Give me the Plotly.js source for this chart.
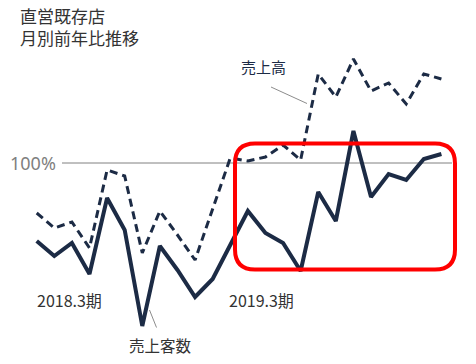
<!DOCTYPE html>
<html><head><meta charset="utf-8">
<script src="https://cdn.plot.ly/plotly-3.0.1.min.js"></script>
<style>html,body{margin:0;padding:0;background:#fff}#chart{width:476px;height:364px}</style>
</head><body><div id="chart"></div>
<script>
// 24 months: Apr 2017 - Mar 2019 (2018.3期, 2019.3期)
const months = ["2017.4","2017.5","2017.6","2017.7","2017.8","2017.9","2017.10","2017.11","2017.12","2018.1","2018.2","2018.3",
                "2018.4","2018.5","2018.6","2018.7","2018.8","2018.9","2018.10","2018.11","2018.12","2019.1","2019.2","2019.3"];
// 売上高 前年比 (%)
const sales = [95.0,93.5,94.1,91.5,99.3,98.7,91.0,95.2,92.8,90.3,95.4,100.5,
               100.2,100.6,101.8,100.3,108.9,106.6,110.4,107.2,108.0,105.9,108.9,108.4];
// 売上客数 前年比 (%)
const customers = [92.2,90.7,92.0,88.9,96.5,93.3,83.7,91.7,89.3,86.6,88.4,91.8,
                   95.2,93.0,92.0,89.2,97.1,94.2,103.2,96.6,98.9,98.3,100.4,100.9];
const titleLines = ["直営既存店","月別前年比推移"];
const periodLabels = ["2018.3期","2019.3期"];
const seriesLabels = ["売上高","売上客数"];
const refValue = 100;

const W = 476, H = 364;
const px = x => x / W, py = y => 1 - y / H;
const navy = "#1c2b45";
const xi = months.map((m, i) => i);

const traces = [
  {x: xi, y: sales, mode: "lines", line: {color: navy, width: 3, dash: "8px,5px"}, hoverinfo: "skip", text: months},
  {x: xi, y: customers, mode: "lines", line: {color: navy, width: 4}, hoverinfo: "skip", text: months}
];

// rounded red rectangle
function roundRect(x0, y0, x1, y1, r) {
  const rx = r / W, ry = r / H;
  const X0 = px(x0), X1 = px(x1), Y0 = py(y0), Y1 = py(y1);
  return `M ${X0+rx},${Y0} L ${X1-rx},${Y0} Q ${X1},${Y0} ${X1},${Y0-ry} L ${X1},${Y1+ry} Q ${X1},${Y1} ${X1-rx},${Y1} ` +
         `L ${X0+rx},${Y1} Q ${X0},${Y1} ${X0},${Y1+ry} L ${X0},${Y0-ry} Q ${X0},${Y0} ${X0+rx},${Y0} Z`;
}

const font = "'Noto Sans CJK JP', 'Noto Sans', sans-serif";
const layout = {
  width: W, height: H,
  margin: {l: 0, r: 0, t: 0, b: 0},
  paper_bgcolor: "#fff", plot_bgcolor: "rgba(0,0,0,0)",
  showlegend: false,
  xaxis: {range: [-2.086, 24.966], visible: false, fixedrange: true},
  yaxis: {range: [79.9, 116.3], visible: false, fixedrange: true},
  shapes: [
    {type: "line", xref: "paper", yref: "y", x0: px(62), x1: px(452), y0: refValue, y1: refValue,
     line: {color: "#808080", width: 1}, layer: "below"},
    {type: "path", xref: "paper", yref: "paper", path: roundRect(235, 143.5, 455, 269.5, 20),
     line: {color: "#ff0000", width: 4}, fillcolor: "rgba(0,0,0,0)", layer: "above"},
    {type: "line", xref: "paper", yref: "paper", x0: px(271), y0: py(87), x1: px(307), y1: py(103.5),
     line: {color: "#8c8c8c", width: 1}},
    {type: "line", xref: "paper", yref: "paper", x0: px(149.5), y0: py(310), x1: px(156.5), y1: py(327.5),
     line: {color: "#8c8c8c", width: 1}}
  ],
  annotations: [
    {xref: "paper", yref: "paper", x: px(18), y: py(27), xanchor: "left", yanchor: "middle", align: "left",
     showarrow: false, text: titleLines.join("<br>"), font: {family: font, size: 17, color: "#333"}},
    {xref: "paper", yref: "y", x: px(58), y: refValue, xanchor: "right", yanchor: "middle", showarrow: false,
     text: refValue + "%", font: {family: "'Noto Sans', sans-serif", size: 18, color: "#7f7f7f"}},
    {xref: "paper", yref: "paper", x: px(239), y: py(66), xanchor: "left", yanchor: "middle", showarrow: false,
     text: seriesLabels[0], font: {family: font, size: 15, color: "#1c2b45"}},
    {xref: "paper", yref: "paper", x: px(127), y: py(345), xanchor: "left", yanchor: "middle", showarrow: false,
     text: seriesLabels[1], font: {family: font, size: 15.5, color: "#333"}},
    {xref: "paper", yref: "paper", x: px(35), y: py(300), xanchor: "left", yanchor: "middle", showarrow: false,
     text: periodLabels[0], font: {family: font, size: 16, color: "#333"}},
    {xref: "paper", yref: "paper", x: px(227), y: py(300), xanchor: "left", yanchor: "middle", showarrow: false,
     text: periodLabels[1], font: {family: font, size: 16, color: "#333"}}
  ]
};
Plotly.newPlot("chart", traces, layout, {staticPlot: true, displayModeBar: false});
</script></body></html>
